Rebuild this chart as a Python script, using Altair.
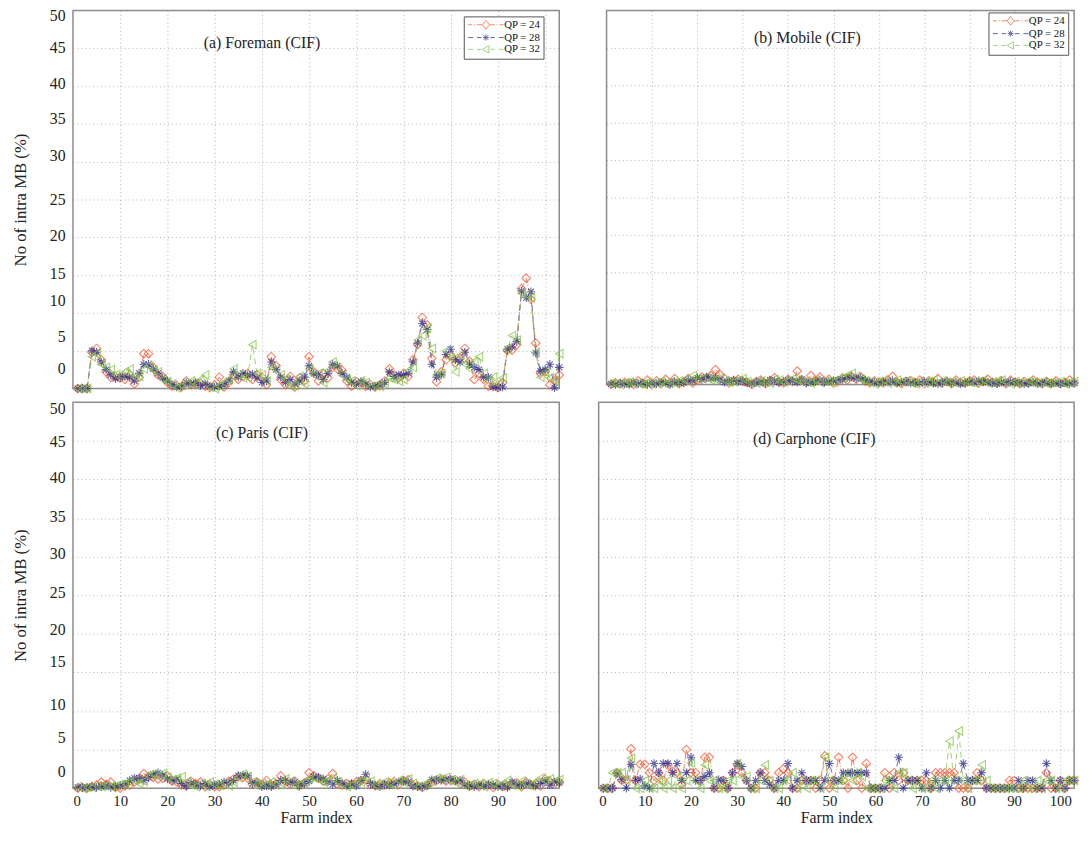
import altair as alt
import pandas as pd

FONT = "'Liberation Serif', 'Times New Roman', Times, serif"
QP = ["QP = 24", "QP = 28", "QP = 32"]
COLORS = ["#f8502a", "#23238c", "#7dc242"]
LINE_COLORS = ["#f8643c", "#5454b4", "#8ccc5a"]
DASHES = [[6, 2, 1, 2], [6, 4], [6, 4]]

frames = list(range(1, 104))

# (a) Foreman
a24 = [0, 0, 0, 4.8, 5.3, 3.8, 2.2, 1.5, 1.6, 1.4, 1.2, 1.8, 0.6, 1.5, 4.6, 4.6, 2.8, 1.8, 1.6, 0.8,
       0.3, 0.4, 0.2, 1.0, 0.5, 0.6, 0.7, 0.3, 0.1, 0.5, 1.5, 0.2, 0.8, 1.8, 1.2, 1.6, 2.0, 1.2, 1.8, 1.5,
       0.5, 4.2, 3.0, 1.2, 0.5, 1.6, 0.2, 1.4, 1.0, 4.2, 2.2, 1.0, 2.0, 1.4, 2.8, 2.6, 2.4, 1.0, 0.3, 0.9,
       0.8, 0.3, 0.5, 0.2, 0.4, 1.0, 2.6, 1.8, 1.4, 2.0, 1.6, 3.8, 5.8, 9.4, 8.4, 4.0, 0.9, 2.2, 3.8, 4.4,
       3.4, 4.0, 5.3, 3.6, 1.2, 2.0, 1.2, 0.3, 0.4, 0.1, 0.8, 5.0, 5.1, 5.8, 13.2, 14.6, 11.8, 6.0, 2.0, 2.2,
       0.5, 1.0, 1.8]
a28 = [0, 0, 0, 5.0, 4.8, 3.5, 2.5, 1.8, 1.3, 1.5, 1.6, 1.5, 1.0, 2.0, 3.2, 3.2, 2.6, 2.0, 1.4, 1.0,
       0.5, 0.2, 0.3, 0.8, 0.6, 0.8, 0.4, 0.6, 0.3, 0.2, 0.3, 0.5, 1.0, 2.2, 1.5, 2.0, 1.8, 1.9, 1.4, 0.8,
       1.0, 3.5, 2.5, 1.5, 0.8, 1.2, 0.6, 1.0, 1.5, 3.0, 2.0, 1.8, 1.2, 2.0, 3.2, 3.0, 2.0, 1.5, 0.8, 0.6,
       0.9, 0.6, 0.2, 0.3, 0.5, 0.8, 2.2, 1.6, 1.8, 1.8, 2.0, 3.5, 6.0, 8.6, 7.8, 3.2, 1.5, 1.8, 4.5, 5.2,
       3.8, 3.5, 4.8, 3.2, 2.8, 2.5, 1.5, 1.5, 0.2, 0.1, 0.2, 5.2, 5.5, 6.2, 12.9, 12.0, 12.8, 4.7, 2.3, 2.5,
       3.2, 0.1, 2.8]
a32 = [0, 0, 0, 4.2, 4.6, 3.2, 2.8, 2.5, 1.8, 1.8, 2.2, 2.6, 1.5, 1.6, 2.6, 3.0, 2.4, 2.2, 1.2, 0.9,
       0.6, 0.1, 0.4, 0.6, 1.0, 0.5, 1.2, 1.8, 0.2, 0.0, 0.3, 0.8, 1.2, 2.6, 1.8, 1.4, 1.5, 5.8, 2.0, 1.8,
       1.0, 2.8, 2.6, 1.8, 1.2, 0.3, 0.4, 1.6, 0.6, 2.6, 1.8, 2.0, 0.8, 2.4, 3.5, 2.8, 1.8, 1.2, 1.0, 0.4,
       1.0, 0.8, 0.3, 0.4, 0.3, 0.6, 1.4, 1.2, 1.0, 1.2, 2.4, 2.8, 6.4, 7.0, 8.0, 5.3, 1.8, 2.0, 5.0, 4.0,
       2.2, 4.4, 3.2, 2.6, 3.6, 4.2, 2.0, 1.0, 1.5, 0.6, 1.4, 5.2, 7.0, 6.4, 12.6, 12.4, 12.0, 4.8, 1.5, 2.2,
       1.4, 1.0, 4.6]

# (b) Mobile
b24 = [0.0, 0.2, 0.1, 0.3, 0.2, 0.0, 0.5, 0.1, 0.6, 0.0, 0.5, 0.1, 0.7, 0.2, 0.8, 0.1, 0.3, 0.8, 0.2, 0.6,
       1.0, 0.9, 1.2, 2.0, 1.3, 0.8, 0.2, 0.5, 0.7, 0.4, 0.3, 0.0, 0.4, 0.6, 0.1, 0.5, 0.9, 0.3, 0.2, 0.7,
       0.4, 1.8, 0.6, 0.3, 1.2, 0.5, 1.0, 0.4, 0.7, 0.2, 0.5, 0.9, 0.6, 1.1, 0.7, 1.0, 0.4, 0.2, 0.5, 0.3,
       0.2, 0.6, 1.1, 0.3, 0.1, 0.4, 0.5, 0.2, 0.6, 0.1, 0.5, 0.3, 0.8, 0.2, 0.4, 0.1, 0.6, 0.3, 0.2, 0.5,
       0.6, 0.2, 0.4, 0.7, 0.3, 0.2, 0.5, 0.1, 0.6, 0.3, 0.1, 0.4, 0.2, 0.6, 0.3, 0.1, 0.4, 0.2, 0.5, 0.1,
       0.3, 0.6, 0.2]
b28 = [0.1, 0.0, 0.2, 0.1, 0.0, 0.3, 0.1, 0.2, 0.0, 0.2, 0.1, 0.3, 0.2, 0.0, 0.4, 0.2, 0.3, 0.6, 0.5, 0.9,
       0.7, 1.0, 0.8, 0.9, 0.6, 0.3, 0.5, 0.6, 0.4, 0.5, 0.2, 0.1, 0.3, 0.4, 0.2, 0.6, 0.5, 0.3, 0.4, 0.6,
       0.5, 0.3, 0.7, 0.2, 0.3, 0.4, 0.6, 0.3, 0.4, 0.5, 0.6, 0.7, 0.9, 1.0, 0.8, 0.9, 0.6, 0.4, 0.3, 0.2,
       0.4, 0.3, 0.5, 0.2, 0.3, 0.4, 0.2, 0.3, 0.2, 0.4, 0.3, 0.2, 0.1, 0.3, 0.4, 0.2, 0.3, 0.1, 0.2, 0.4,
       0.3, 0.5, 0.4, 0.3, 0.2, 0.1, 0.3, 0.2, 0.4, 0.3, 0.2, 0.1, 0.2, 0.3, 0.1, 0.2, 0.3, 0.1, 0.2, 0.1,
       0.2, 0.1, 0.2]
b32 = [0.2, 0.1, 0.0, 0.2, 0.3, 0.1, 0.2, 0.0, 0.3, 0.1, 0.2, 0.4, 0.1, 0.3, 0.2, 0.5, 0.6, 0.4, 1.2, 0.7,
       0.8, 1.1, 0.6, 0.7, 0.9, 0.5, 0.3, 0.4, 0.6, 0.8, 0.4, 0.3, 0.2, 0.5, 0.3, 0.2, 0.7, 0.6, 0.3, 0.5,
       0.8, 0.6, 0.4, 0.5, 0.2, 0.6, 0.3, 0.5, 0.4, 0.3, 0.7, 0.9, 1.2, 1.5, 1.1, 0.7, 0.5, 0.3, 0.1, 0.4,
       0.6, 0.2, 0.3, 0.6, 0.4, 0.5, 0.3, 0.1, 0.5, 0.2, 0.4, 0.6, 0.2, 0.5, 0.3, 0.4, 0.2, 0.5, 0.4, 0.3,
       0.2, 0.4, 0.6, 0.2, 0.3, 0.5, 0.6, 0.3, 0.1, 0.4, 0.3, 0.2, 0.5, 0.3, 0.2, 0.4, 0.1, 0.3, 0.2, 0.4,
       0.1, 0.3, 0.4]

# (c) Paris
c24 = [0.0, 0.1, 0.0, 0.2, 0.4, 0.8, 0.5, 0.8, 0.1, 0.0, 0.3, 0.4, 0.8, 1.2, 1.9, 1.5, 1.4, 1.2, 1.3, 1.6,
       0.9, 0.8, 0.4, 0.3, 0.9, 0.6, 0.8, 0.2, 0.5, 0.2, 0.2, 0.4, 0.9, 1.2, 1.5, 1.4, 1.3, 0.5, 0.8, 0.4,
       1.0, 0.4, 0.6, 1.6, 0.8, 0.5, 0.9, 0.4, 0.7, 2.0, 1.6, 1.3, 0.9, 1.2, 1.9, 0.6, 0.4, 0.6, 0.5, 0.8,
       1.0, 1.2, 0.5, 0.3, 0.6, 0.4, 0.7, 0.9, 0.5, 1.0, 1.1, 0.4, 0.3, 0.1, 0.4, 0.8, 1.0, 1.2, 0.9, 1.0,
       1.1, 0.6, 0.8, 0.3, 0.5, 0.2, 0.6, 0.4, 0.1, 0.5, 0.2, 0.3, 0.6, 0.7, 0.2, 0.8, 0.4, 0.6, 0.3, 1.2,
       0.9, 0.6, 0.8]
c28 = [0.1, 0.1, 0.1, 0.2, 0.1, 0.2, 0.3, 0.1, 0.2, 0.3, 0.5, 1.0, 1.3, 1.3, 1.0, 1.4, 1.8, 2.0, 1.7, 1.2,
       1.0, 1.1, 0.6, 0.3, 0.7, 0.5, 0.3, 0.6, 0.2, 0.4, 0.5, 0.8, 0.7, 1.0, 1.6, 1.7, 1.6, 0.6, 0.7, 0.2,
       0.3, 0.2, 0.5, 1.0, 1.0, 0.7, 0.8, 0.3, 0.6, 0.9, 1.5, 1.4, 1.2, 0.8, 0.5, 1.0, 0.7, 0.3, 0.6, 0.3,
       1.0, 1.8, 0.6, 0.4, 0.2, 0.5, 0.4, 0.6, 0.8, 0.9, 0.8, 0.3, 0.2, 0.2, 0.3, 1.1, 1.1, 1.0, 1.1, 1.2,
       0.9, 1.0, 0.5, 0.3, 0.2, 0.4, 0.3, 0.5, 0.4, 0.2, 0.3, 0.1, 0.8, 0.5, 0.4, 0.6, 0.5, 0.3, 0.6, 0.9,
       0.4, 0.8, 0.7]
c32 = [0.2, 0.0, 0.1, 0.1, 0.3, 0.2, 0.4, 0.2, 0.3, 0.5, 0.6, 0.8, 1.0, 0.6, 0.9, 1.6, 1.8, 1.6, 1.9, 1.4,
       1.1, 1.3, 1.5, 0.8, 0.4, 0.2, 0.6, 0.3, 0.8, 0.5, 0.4, 0.6, 0.3, 0.8, 1.4, 1.8, 1.5, 0.8, 0.5, 0.6,
       0.5, 0.8, 0.4, 0.7, 1.2, 0.9, 0.3, 0.5, 0.8, 1.2, 1.3, 1.1, 0.8, 1.0, 1.3, 0.8, 0.5, 0.2, 0.4, 0.7,
       0.8, 1.4, 0.9, 0.4, 0.5, 0.8, 0.6, 0.4, 1.0, 0.8, 1.2, 0.6, 0.2, 0.4, 0.5, 0.9, 1.3, 1.2, 1.4, 1.0,
       0.8, 1.1, 0.3, 0.4, 0.6, 0.5, 0.2, 0.7, 0.6, 0.3, 0.5, 1.0, 0.4, 0.3, 0.9, 0.6, 0.3, 0.8, 1.3, 1.0,
       1.2, 0.9, 1.1]

# (d) Carphone
d24 = [0, 0, 0, 2.0, 1.0, 1.0, 5.1, 1.0, 3.1, 3.1, 2.0, 1.0, 2.0, 1.0, 3.0, 2.2, 2.0, 0.5, 5.0, 2.0,
       2.0, 1.0, 4.0, 4.0, 0, 0, 1.0, 0, 2.0, 3.0, 2.0, 1.0, 0, 0, 2.0, 2.0, 1.0, 0, 2.0, 2.5,
       2.0, 0, 0, 1.0, 1.0, 1.0, 0, 1.0, 4.2, 0, 1.0, 4.0, 1.0, 0, 4.0, 1.0, 0, 3.2, 0, 0,
       0, 2.0, 0, 2.0, 1.0, 2.0, 1.0, 1.0, 1.0, 1.0, 1.0, 0, 2.0, 2.0, 2.0, 2.0, 2.0, 0, 0, 0,
       1.0, 2.0, 1.0, 0, 0, 0, 0, 0, 1.0, 1.0, 0, 0, 0, 0, 0, 0, 2.0, 0, 0, 1.0,
       0, 1.0, 1.0]
d28 = [0, 0, 0, 1.9, 1.1, 0, 3.1, 1.0, 1.2, 0.3, 0, 3.2, 2.0, 3.2, 3.2, 2.0, 3.2, 1.0, 2.0, 4.0,
       1.0, 1.0, 1.5, 2.0, 0, 1.1, 1.0, 0, 2.0, 3.2, 2.8, 1.0, 0, 1.0, 2.0, 1.0, 0.5, 0, 1.0, 1.0,
       3.2, 0, 1.0, 2.0, 1.0, 1.0, 1.0, 0, 1.0, 3.2, 1.0, 1.0, 2.0, 2.0, 2.0, 2.0, 2.0, 2.0, 0, 0,
       0, 0, 1.0, 1.0, 4.0, 0, 1.0, 1.0, 1.0, 0, 2.0, 0, 1.0, 0, 1.0, 0, 1.0, 1.0, 3.2, 1.0,
       1.0, 1.0, 2.0, 0, 0, 0, 0, 0, 0, 0, 1.0, 0, 1.0, 1.0, 0, 0, 3.2, 1.0, 0, 1.0,
       0, 1.0, 1.0]
d32 = [0, 0, 2.0, 2.0, 2.0, 1.0, 3.9, 0, 0, 1.0, 0, 0, 1.0, 0, 1.0, 0, 1.5, 0, 1.0, 3.3,
       1.0, 0, 3.0, 1.0, 1.0, 0, 0, 1.0, 1.0, 3.2, 1.5, 1.5, 0, 0, 1.0, 3.0, 1.0, 0, 0, 1.0,
       1.0, 2.0, 0, 1.0, 0, 1.0, 1.0, 0, 4.0, 1.0, 0, 1.0, 1.0, 2.0, 1.0, 2.0, 1.5, 0, 0, 0,
       0, 1.0, 1.0, 0, 2.0, 2.0, 1.0, 0, 1.0, 0, 0, 1.0, 0, 1.0, 1.0, 6.1, 1.0, 7.4, 1.0, 0,
       1.0, 1.0, 3.0, 1.0, 0, 0, 0, 0, 0, 0, 0, 1.0, 0, 0, 1.0, 0, 1.0, 1.0, 0, 0,
       1.0, 1.0, 1.0]

x_ticks = list(range(0, 101, 10))
y_ticks = list(range(0, 51, 5))

ASTERISK = "M-1,0L1,0M0,-1L0,1M-0.7,-0.7L0.7,0.7M-0.7,0.7L0.7,-0.7"
# legend symbols: marker with its line style drawn through it
LEG_PATHS = [
    "M-3.6,0L-2.8,0M-2.4,0L-2.2,0M-1.8,0L-0.7,0M0,-0.9L0.7,0L0,0.9L-0.7,0ZM0.7,0L1.8,0M2.2,0L2.4,0M2.8,0L3.6,0",
    "M-3.6,0L-2.6,0M-1.8,0L-0.9,0M-0.6,0L0.6,0M0,-0.6L0,0.6M-0.45,-0.45L0.45,0.45M-0.45,0.45L0.45,-0.45"
    "M0.9,0L1.8,0M2.6,0L3.6,0",
    "M-3.6,0L-2.6,0M-1.8,0L-0.9,0M-0.7,0L0.6,-0.75L0.6,0.75ZM0.9,0L1.8,0M2.6,0L3.6,0",
]


def make_df(s24, s28, s32):
    rows = []
    for name, series in zip(QP, [s24, s28, s32]):
        for f, v in zip(frames, series):
            rows.append({"frame": f, "qp": name, "value": v})
    return pd.DataFrame(rows)


TOP_OFF = ("datum.value==50?-3:datum.value==45?-1:datum.value==40?-3:datum.value==35?-5:"
           "datum.value==30?-6:datum.value==25?0:datum.value==20?-2:datum.value==15?-2:"
           "datum.value==10?-13:datum.value==5?-14:-12")
BOT_OFF = ("datum.value==50?-2:datum.value==45?1:datum.value==40?-2:datum.value==35?-1:"
           "datum.value==30?-3:datum.value==25?-3:datum.value==20?-4:datum.value==15?-11:"
           "datum.value==10?-7:datum.value==5?-12:-9")
BASELINE = "datum.value==50?'top':datum.value==0?'bottom':'middle'"


def panel(df, title, width, height, show_y, show_x, legend_xy, tx, ty, off_expr):
    x_axis = alt.Axis(values=x_ticks, labels=show_x, ticks=False, domain=False,
                      title="Farm index" if show_x else None, grid=True,
                      gridDash=[1, 3], gridColor="#b0b0b0", labelFont=FONT, labelFontSize=15,
                      labelColor="#222", titleFont=FONT, titleFontSize=16, titleFontWeight="normal",
                      titleColor="#222", labelPadding=6, titlePadding=1)
    if show_y:
        y_axis = alt.Axis(values=y_ticks, labels=True, ticks=False, domain=False,
                          title="No of intra MB (%)", grid=True, gridDash=[1, 3],
                          gridColor="#b0b0b0", labelFont=FONT, labelFontSize=16,
                          labelColor="#222", titleFont=FONT, titleFontSize=17,
                          titleFontWeight="normal", titleColor="#222", labelPadding=8,
                          titlePadding=20, labelOffset=alt.ExprRef(off_expr),
                          labelBaseline=alt.ExprRef(BASELINE))
    else:
        y_axis = alt.Axis(values=y_ticks, labels=False, ticks=False, domain=False, title=None,
                          grid=True, gridDash=[1, 3], gridColor="#b0b0b0")
    X = alt.X("frame:Q", scale=alt.Scale(domain=[0, 103], nice=False), axis=x_axis)
    Y = alt.Y("value:Q", scale=alt.Scale(domain=[0, 50], nice=False), axis=y_axis)
    base = alt.Chart(df)
    layers = []
    for name, col, dash in zip(QP, LINE_COLORS, DASHES):
        layers.append(
            base.transform_filter(alt.datum.qp == name)
            .mark_line(strokeWidth=1, opacity=0.85, color=col, strokeDash=dash)
            .encode(x=X, y=Y)
        )
    pts = base.mark_point(filled=False, size=75, strokeWidth=1.1).encode(
        x=X, y=Y,
        color=alt.Color("qp:N", scale=alt.Scale(domain=QP, range=COLORS), legend=None),
        shape=alt.Shape("qp:N", scale=alt.Scale(domain=QP, range=["diamond", ASTERISK, "triangle-left"]),
                        legend=None))
    layers.append(pts)
    if legend_xy:
        leg = alt.Legend(title=None, orient="none", legendX=legend_xy[0], legendY=legend_xy[1],
                         strokeColor="#555", fillColor="white", padding=3, labelFont=FONT,
                         labelFontSize=11, labelColor="#111", symbolSize=100, symbolStrokeWidth=1,
                         rowPadding=0, symbolOffset=14, labelOffset=13, cornerRadius=0)
        legend_layer = base.transform_filter("false").mark_point(filled=False).encode(
            x=X, y=Y,
            color=alt.Color("qp:N", scale=alt.Scale(domain=QP, range=COLORS), legend=leg),
            shape=alt.Shape("qp:N", scale=alt.Scale(domain=QP, range=LEG_PATHS), legend=leg))
        layers.append(legend_layer)
    label = alt.Chart(pd.DataFrame({"t": [title]})).mark_text(
        font=FONT, fontSize=16, color="#222", align="center", baseline="middle"
    ).encode(text="t:N", x=alt.value(tx), y=alt.value(ty))
    layers.append(label)
    return alt.layer(*layers).resolve_scale(color="independent", shape="independent").properties(
        width=width, height=height)


pa = panel(make_df(a24, a28, a32), "(a) Foreman (CIF)", 494, 384, True, False, (397, 6), 192, 33, TOP_OFF)
pb = panel(make_df(b24, b28, b32), "(b) Mobile (CIF)", 475, 380, False, False, (388, 2), 204, 28, TOP_OFF)
pc = panel(make_df(c24, c28, c32), "(c) Paris (CIF)", 494, 392, True, True, None, 192, 31, BOT_OFF)
pd_ = panel(make_df(d24, d28, d32), "(d) Carphone (CIF)", 483, 392, False, True, None, 219, 37, BOT_OFF)

row1 = alt.hconcat(pa, pb, spacing=37).resolve_scale(color="independent", shape="independent")
row2 = alt.hconcat(pc, pd_, spacing=29).resolve_scale(color="independent", shape="independent")
chart = alt.vconcat(row1, row2, spacing=3).resolve_scale(
    color="independent", shape="independent"
).configure(
    font=FONT,
    style={"guide-label": {"font": FONT}, "guide-title": {"font": FONT}},
).configure_axis(
    labelFont=FONT, titleFont=FONT
).configure_legend(labelFont=FONT).configure_text(font=FONT).configure_view(
    stroke="#8a8a8a", strokeWidth=1.5
).properties(padding={"left": 3, "top": -8, "right": 0, "bottom": 0})

chart.save("out.html", embed_options={"renderer": "svg", "actions": False})
